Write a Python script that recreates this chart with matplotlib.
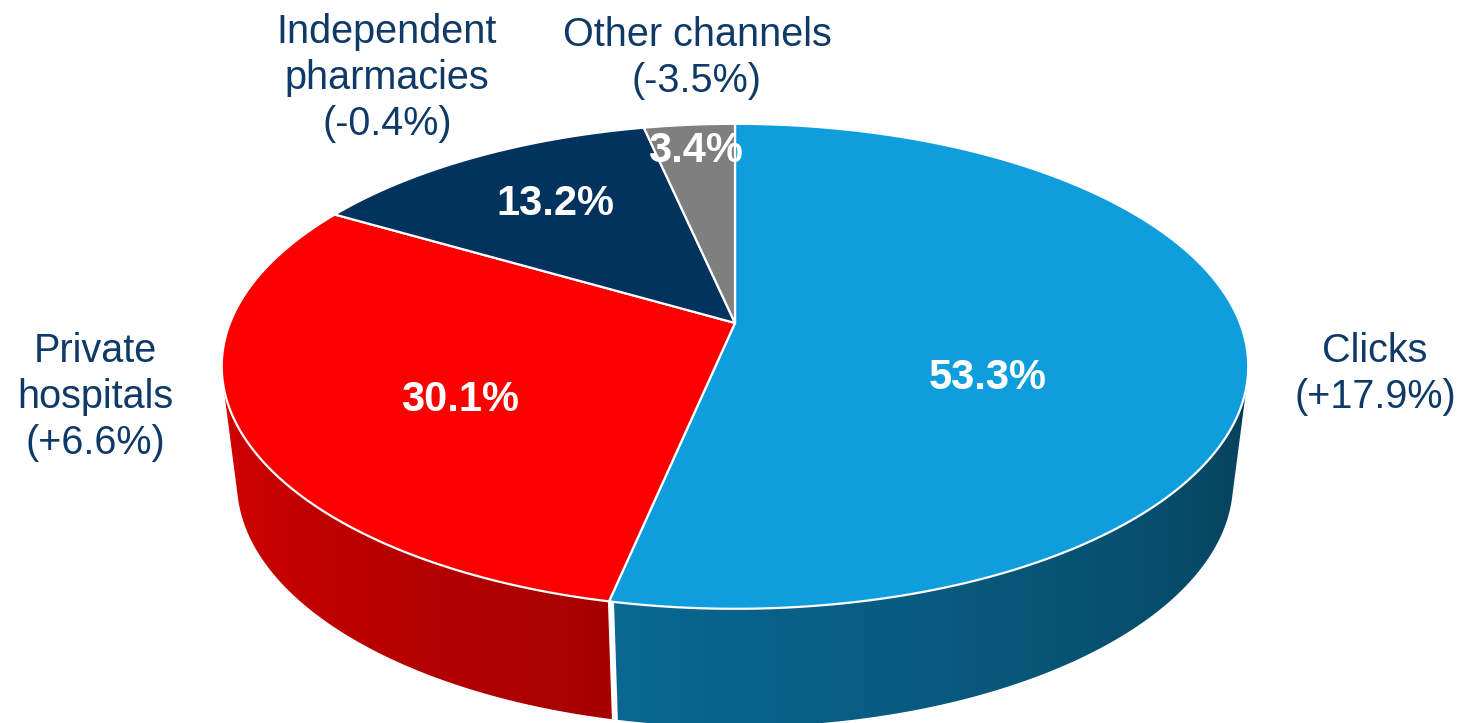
"""3D pie of channel shares, drawn by hand with a simple perspective projection."""

import numpy as np
import matplotlib

matplotlib.use("Agg")
import matplotlib.pyplot as plt
from matplotlib.colors import to_rgb
from matplotlib.patches import Polygon

channels = ["Clicks", "Private\nhospitals", "Independent\npharmacies", "Other channels"]
shares = [53.3, 30.1, 13.2, 3.4]
growth = [17.9, 6.6, -0.4, -3.5]

top_colors = ["#0E9EDE", "#FC0000", "#02335F", "#7F7F7F"]
text_color = "#0F3A68"

# label placement (radius fraction, angle shift in degrees) and outer label anchors (px)
label_r = [0.53, 0.60, 0.68, 0.85]
label_shift = [19, -7, 1, 0]
outer_pos = [(1375, 374), (95, 397), (387, 78), (697, 58)]

# projection parameters, in output pixels
W, H = 1459, 723
CX, CY, K = 735, 323, 505
TILT = np.radians(27.7)
DIST = 4.957
DEPTH = 118
VANISH_Y = 4300


def project(theta, r=1.0):
    t = np.radians(theta)
    x = r * np.sin(t)
    z = -r * np.cos(t)
    s = DIST / (DIST - z * np.cos(TILT))
    return CX + K * x * s, CY + K * z * np.sin(TILT) * s


def drop(px, py):
    dx, dy = CX - px, VANISH_Y - py
    n = np.hypot(dx, dy)
    return px + dx / n * DEPTH, py + dy / n * DEPTH


def faces_viewer(t1, t2):
    p1, p2 = project(t1), project(t2)
    pts = np.array([p1, p2, drop(*p2), drop(*p1)])
    x, y = pts[:, 0], pts[:, 1]
    return np.sum(x * np.roll(y, -1) - np.roll(x, -1) * y) < 0


def shade(theta):
    return np.clip(0.40 + (theta - 103) * 0.00292, 0.38, 0.87)


plt.rcParams["font.family"] = ["Liberation Sans", "DejaVu Sans"]
fig = plt.figure(figsize=(W / 100, H / 100), dpi=100)
ax = fig.add_axes([0, 0, 1, 1])
ax.set_xlim(0, W)
ax.set_ylim(H, 0)
ax.axis("off")

bounds = np.concatenate([[0], np.cumsum(shares)]) / sum(shares) * 360

# screen column -> angle on the front rim, for the wall shading
rim_t = np.linspace(90, 270, 721)
rim_x = np.array([project(t)[0] for t in rim_t])
cols = np.arange(W) + 0.5
col_theta = np.interp(cols, rim_x[::-1], rim_t[::-1])
col_shade = shade(col_theta)

# side wall: one gradient image per slice, clipped to the visible band
for i in range(len(shares)):
    th = np.linspace(bounds[i], bounds[i + 1], 400)
    keep = [t for t, t2 in zip(th[:-1], th[1:]) if faces_viewer(t, t2)]
    if len(keep) < 2:
        continue
    top = np.array([project(t) for t in keep])
    bot = np.array([drop(*p) for p in top])
    band = Polygon(np.vstack([top, bot[::-1]]), closed=True, transform=ax.transData,
                   facecolor="none", edgecolor="none")
    ax.add_patch(band)
    base = np.array(to_rgb(top_colors[i]))
    grad = np.clip(col_shade[None, :, None] * base[None, None, :], 0, 1)
    im = ax.imshow(grad, extent=[0, W, H, 0], aspect="auto", interpolation="bilinear",
                   zorder=1)
    im.set_clip_path(band)

# white seams on the wall where slices meet
for b in bounds[1:-1]:
    if faces_viewer(b - 0.5, b + 0.5):
        p = project(b)
        q = drop(*p)
        ax.plot([p[0], q[0]], [p[1], q[1]], color="white", lw=1.6,
                solid_capstyle="butt", zorder=2)

# top faces
for i in range(len(shares)):
    th = np.linspace(bounds[i], bounds[i + 1], 200)
    arc = np.array([project(t) for t in th])
    pts = np.vstack([[CX, CY], arc])
    ax.add_patch(Polygon(pts, closed=True, facecolor=top_colors[i],
                         edgecolor="white", lw=1.6, joinstyle="round", zorder=3))

# value labels on the slices
for i, v in enumerate(shares):
    mid = 0.5 * (bounds[i] + bounds[i + 1]) + label_shift[i]
    lx, ly = project(mid, label_r[i])
    ax.text(lx, ly, f"{v:.1f}%", color="white", fontsize=30, fontweight="bold",
            ha="center", va="center", zorder=4)

# category labels with growth
for i, name in enumerate(channels):
    ox, oy = outer_pos[i]
    ax.text(ox, oy, f"{name}\n({growth[i]:+.1f}%)", color=text_color, fontsize=28.5,
            ha="center", va="center", linespacing=1.26, zorder=4)

fig.savefig("out.png", dpi=100)
